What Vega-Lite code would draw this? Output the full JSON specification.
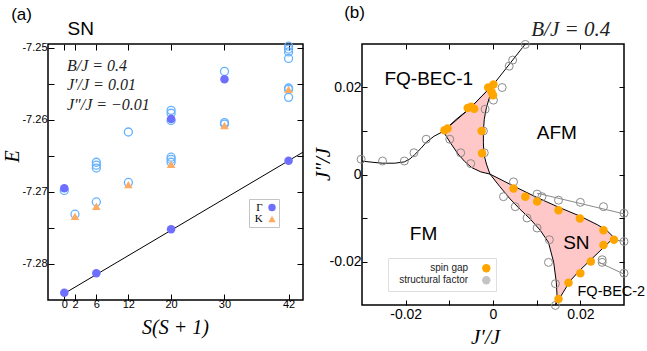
{
  "$schema": "https://vega.github.io/schema/vega-lite/v6.json",
  "padding": {"left": 1, "top": 3, "right": 0, "bottom": 0},
  "spacing": 6,
  "datasets": {
    "gk": [
      {"s": 0, "e": -7.2840, "k": "Γ"}, {"s": 6, "e": -7.2813, "k": "Γ"}, {"s": 20, "e": -7.2752, "k": "Γ"},
      {"s": 42, "e": -7.2657, "k": "Γ"}, {"s": 0, "e": -7.2695, "k": "Γ"}, {"s": 20, "e": -7.2599, "k": "Γ"},
      {"s": 30, "e": -7.2544, "k": "Γ"},
      {"s": 2, "e": -7.2734, "k": "K"}, {"s": 6, "e": -7.2720, "k": "K"}, {"s": 12, "e": -7.2690, "k": "K"},
      {"s": 20, "e": -7.2662, "k": "K"}, {"s": 30, "e": -7.2608, "k": "K"}, {"s": 42, "e": -7.2558, "k": "K"}
    ],
    "other": [
      {"s": 0, "e": -7.2698}, {"s": 2, "e": -7.2731}, {"s": 6, "e": -7.2714}, {"s": 6, "e": -7.2659},
      {"s": 6, "e": -7.2663}, {"s": 6, "e": -7.2667}, {"s": 12, "e": -7.2687}, {"s": 12, "e": -7.2617},
      {"s": 20, "e": -7.2587}, {"s": 20, "e": -7.2591}, {"s": 20, "e": -7.2601}, {"s": 20, "e": -7.2652},
      {"s": 20, "e": -7.2655}, {"s": 20, "e": -7.2659}, {"s": 30, "e": -7.2533}, {"s": 30, "e": -7.2604},
      {"s": 30, "e": -7.2606}, {"s": 42, "e": -7.2498}, {"s": 42, "e": -7.2502}, {"s": 42, "e": -7.2506},
      {"s": 42, "e": -7.2515}, {"s": 42, "e": -7.2556}, {"s": 42, "e": -7.2558}, {"s": 42, "e": -7.2569}
    ],
    "fit": [{"s": 0, "e": -7.2841}, {"s": 44.7, "e": -7.2645}],
    "paramsA": [
      {"t": "B/J =  0.4", "s": 0.5, "e": -7.2525},
      {"t": "J′/J = 0.01", "s": 0.5, "e": -7.2552},
      {"t": "J″/J = −0.01", "s": 0.5, "e": -7.2579}
    ],
    "snA": [{"t": "SN", "s": 3.07, "e": -7.24737}],
    "labA": [{"t": "(a)", "s": -8.0, "e": -7.24541}],
    "sn": [
      {"i": 0, "x": -0.0114, "y": 0.0099}, {"i": 1, "x": -0.0084, "y": 0.0127}, {"i": 2, "x": -0.0053, "y": 0.0152},
      {"i": 3, "x": -0.0026, "y": 0.0180}, {"i": 4, "x": 0.0001, "y": 0.0207}, {"i": 5, "x": -0.0007, "y": 0.0181},
      {"i": 6, "x": -0.0015, "y": 0.0154}, {"i": 7, "x": -0.0020, "y": 0.0127}, {"i": 8, "x": -0.0022, "y": 0.0100},
      {"i": 9, "x": -0.0022, "y": 0.0073}, {"i": 10, "x": -0.0021, "y": 0.0047}, {"i": 11, "x": -0.0015, "y": 0.0024},
      {"i": 12, "x": -0.0007, "y": 0.0001}, {"i": 13, "x": 0.0015, "y": -0.0027}, {"i": 14, "x": 0.0039, "y": -0.0056},
      {"i": 15, "x": 0.0062, "y": -0.0080}, {"i": 16, "x": 0.0085, "y": -0.0102}, {"i": 17, "x": 0.0108, "y": -0.0128},
      {"i": 18, "x": 0.0127, "y": -0.0156}, {"i": 19, "x": 0.0139, "y": -0.0202}, {"i": 20, "x": 0.0145, "y": -0.0248},
      {"i": 21, "x": 0.0147, "y": -0.0285}, {"i": 22, "x": 0.0143, "y": -0.0300}, {"i": 23, "x": 0.0160, "y": -0.0272},
      {"i": 24, "x": 0.0177, "y": -0.0244}, {"i": 25, "x": 0.0200, "y": -0.0219}, {"i": 26, "x": 0.0224, "y": -0.0196},
      {"i": 27, "x": 0.0254, "y": -0.0167}, {"i": 28, "x": 0.0277, "y": -0.0145}, {"i": 29, "x": 0.0262, "y": -0.0130},
      {"i": 30, "x": 0.0240, "y": -0.0116}, {"i": 31, "x": 0.0200, "y": -0.0096}, {"i": 32, "x": 0.0150, "y": -0.0075},
      {"i": 33, "x": 0.0101, "y": -0.0053}, {"i": 34, "x": 0.0050, "y": -0.0028}, {"i": 35, "x": -0.0007, "y": 0.0001},
      {"i": 36, "x": -0.0028, "y": 0.0006}, {"i": 37, "x": -0.0049, "y": 0.0016}, {"i": 38, "x": -0.0065, "y": 0.0030},
      {"i": 39, "x": -0.0080, "y": 0.0047}, {"i": 40, "x": -0.0097, "y": 0.0072}, {"i": 41, "x": -0.0114, "y": 0.0099}
    ],
    "bj": [
      {"i": 0, "x": -0.0302, "y": 0.0031}, {"i": 1, "x": -0.0275, "y": 0.0028}, {"i": 2, "x": -0.0253, "y": 0.0026},
      {"i": 3, "x": -0.0225, "y": 0.0026}, {"i": 4, "x": -0.0203, "y": 0.0029}, {"i": 5, "x": -0.0190, "y": 0.0036},
      {"i": 6, "x": -0.0180, "y": 0.0045}, {"i": 7, "x": -0.0165, "y": 0.0060}, {"i": 8, "x": -0.0153, "y": 0.0074},
      {"i": 9, "x": -0.0135, "y": 0.0088}, {"i": 10, "x": -0.0114, "y": 0.0099}, {"i": 11, "x": -0.0053, "y": 0.0152},
      {"i": 12, "x": 0.0001, "y": 0.0207}, {"i": 13, "x": 0.0074, "y": 0.0300}
    ],
    "gl": [
      {"g": 1, "i": 0, "x": 0.0101, "y": -0.0043}, {"g": 1, "i": 1, "x": 0.0302, "y": -0.0091},
      {"g": 2, "i": 0, "x": 0.0277, "y": -0.0150}, {"g": 2, "i": 1, "x": 0.0302, "y": -0.0154},
      {"g": 3, "i": 0, "x": 0.0243, "y": -0.0202}, {"g": 3, "i": 1, "x": 0.0302, "y": -0.0230}
    ],
    "sf": [
      {"x": -0.0302, "y": 0.0035}, {"x": -0.0253, "y": 0.0031}, {"x": -0.0203, "y": 0.0031}, {"x": -0.0181, "y": 0.0050},
      {"x": -0.0153, "y": 0.0081}, {"x": 0.0021, "y": 0.0200}, {"x": 0.0037, "y": 0.0249}, {"x": 0.0045, "y": 0.0263},
      {"x": 0.0074, "y": 0.0299}, {"x": -0.0099, "y": 0.0081}, {"x": -0.0074, "y": 0.0050}, {"x": -0.0051, "y": 0.0025},
      {"x": -0.0022, "y": 0.0100}, {"x": -0.0020, "y": 0.0050}, {"x": 0.0001, "y": 0.0171}, {"x": -0.0018, "y": 0.0150},
      {"x": 0.0047, "y": -0.0017}, {"x": 0.0024, "y": -0.0051}, {"x": 0.0051, "y": -0.0074}, {"x": 0.0078, "y": -0.0100},
      {"x": 0.0101, "y": -0.0123}, {"x": 0.0129, "y": -0.0150}, {"x": 0.0127, "y": -0.0202}, {"x": 0.0143, "y": -0.0251},
      {"x": 0.0143, "y": -0.0301}, {"x": 0.0101, "y": -0.0045}, {"x": 0.0112, "y": -0.0051}, {"x": 0.0150, "y": -0.0059},
      {"x": 0.0200, "y": -0.0064}, {"x": 0.0253, "y": -0.0074}, {"x": 0.0300, "y": -0.0089}, {"x": 0.0300, "y": -0.0154},
      {"x": 0.0250, "y": -0.0196}, {"x": 0.0250, "y": -0.0202}, {"x": 0.0300, "y": -0.0227}
    ],
    "sg": [
      {"x": -0.0111, "y": 0.0102, "kind": "spin gap"}, {"x": -0.0104, "y": 0.0106, "kind": "spin gap"},
      {"x": -0.0058, "y": 0.0153, "kind": "spin gap"}, {"x": -0.0050, "y": 0.0156, "kind": "spin gap"},
      {"x": -0.0043, "y": 0.0151, "kind": "spin gap"}, {"x": -0.0011, "y": 0.0200, "kind": "spin gap"},
      {"x": 0.0001, "y": 0.0207, "kind": "spin gap"}, {"x": -0.0003, "y": 0.0189, "kind": "spin gap"},
      {"x": 0.0000, "y": 0.0182, "kind": "spin gap"}, {"x": -0.0026, "y": 0.0100, "kind": "spin gap"},
      {"x": -0.0025, "y": 0.0049, "kind": "spin gap"}, {"x": 0.0047, "y": -0.0032, "kind": "spin gap"},
      {"x": 0.0074, "y": -0.0051, "kind": "spin gap"}, {"x": 0.0101, "y": -0.0062, "kind": "spin gap"},
      {"x": 0.0150, "y": -0.0082, "kind": "spin gap"}, {"x": 0.0199, "y": -0.0101, "kind": "spin gap"},
      {"x": 0.0253, "y": -0.0128, "kind": "spin gap"}, {"x": 0.0277, "y": -0.0150, "kind": "spin gap"},
      {"x": 0.0253, "y": -0.0162, "kind": "spin gap"}, {"x": 0.0224, "y": -0.0200, "kind": "spin gap"},
      {"x": 0.0200, "y": -0.0227, "kind": "spin gap"}, {"x": 0.0173, "y": -0.0249, "kind": "spin gap"},
      {"x": 0.0150, "y": -0.0286, "kind": "spin gap"}
    ],
    "regions": [
      {"t": "FQ-BEC-1", "x": -0.0147, "y": 0.0219}, {"t": "AFM", "x": 0.0146, "y": 0.0096},
      {"t": "FM", "x": -0.0159, "y": -0.0137}, {"t": "SN", "x": 0.0191, "y": -0.0157}
    ],
    "fq2": [{"t": "FQ-BEC-2", "x": 0.0271, "y": -0.0269}],
    "labB": [{"t": "(b)", "x": -0.0317, "y": 0.0371}],
    "bjlab": [{"t": "B/J = 0.4", "x": 0.0178, "y": 0.0332}]
  },
  "hconcat": [
    {
      "width": 255,
      "height": 256,
      "resolve": {"axis": {"x": "independent", "y": "independent"}},
      "layer": [
        {
          "data": {"name": "fit"},
          "mark": {"type": "line", "color": "black", "strokeWidth": 1, "clip": true},
          "encoding": {
            "x": {"field": "s", "type": "quantitative", "scale": {"domain": [-3.05, 44.7], "nice": false, "zero": false},
                  "axis": {"orient": "top", "values": [0, 2, 6, 12, 20, 30, 42], "labels": false, "title": null, "tickSize": -6}},
            "y": {"field": "e", "type": "quantitative", "scale": {"domain": [-7.285, -7.2495], "nice": false, "zero": false},
                  "axis": {"orient": "right", "values": [-7.28, -7.275, -7.27, -7.265, -7.26, -7.255, -7.25], "labels": false, "title": null, "tickSize": -6}}
          }
        },
        {
          "data": {"name": "other"},
          "mark": {"type": "point", "filled": false, "stroke": "#66b2ff", "strokeWidth": 1.3, "size": 64, "opacity": 1},
          "encoding": {
            "x": {"field": "s", "type": "quantitative", "axis": null},
            "y": {"field": "e", "type": "quantitative", "axis": null}
          }
        },
        {
          "data": {"name": "gk"},
          "mark": {"type": "point", "filled": true, "size": 72, "opacity": 1},
          "encoding": {
            "x": {"field": "s", "type": "quantitative",
                  "axis": {"orient": "bottom", "values": [0, 2, 6, 12, 20, 30, 42], "tickSize": -6, "labelFontSize": 11, "labelPadding": 4,
                           "title": "S(S + 1)", "titleFont": "Liberation Serif", "titleFontStyle": "italic", "titleFontSize": 20, "titleX": 127, "titleY": 17}},
            "y": {"field": "e", "type": "quantitative",
                  "axis": {"orient": "left", "values": [-7.28, -7.275, -7.27, -7.265, -7.26, -7.255, -7.25], "tickSize": -6, "labelFontSize": 11, "labelPadding": 7,
                           "labelExpr": "abs(datum.value*100 - round(datum.value*100)) < 0.1 ? '-' + format(abs(datum.value), '.2f') : ''",
                           "title": "E", "titleFont": "Liberation Serif", "titleFontStyle": "italic", "titleFontSize": 20, "titleX": -26, "titleY": 112}},
            "color": {"field": "k", "type": "nominal", "scale": {"domain": ["Γ", "K"], "range": ["#6f6fff", "#ffab62"]},
                      "legend": {"title": null, "orient": "none", "legendX": 201, "legendY": 155, "padding": 3, "rowPadding": -0.5,
                                 "labelFont": "Liberation Serif", "labelFontSize": 11, "labelAlign": "right", "labelOffset": -14.8, "symbolOffset": 14.5,
                                 "symbolSize": 55, "fillColor": "white", "strokeColor": "#c4c4c4",
                                 "encode": {"legend": {"update": {"strokeWidth": {"value": 2}}},
                                            "labels": {"update": {"fill": {"signal": "datum.value === 'Γ' ? '#6f6fff' : '#ffab62'"}}}}}},
            "shape": {"field": "k", "type": "nominal", "scale": {"domain": ["Γ", "K"], "range": ["circle", "triangle-up"]}, "legend": null}
          }
        },
        {
          "data": {"name": "paramsA"},
          "mark": {"type": "text", "align": "left", "baseline": "middle", "font": "Liberation Serif", "fontStyle": "italic", "fontSize": 16, "color": "#222"},
          "encoding": {
            "x": {"field": "s", "type": "quantitative", "axis": null},
            "y": {"field": "e", "type": "quantitative", "axis": null},
            "text": {"field": "t"}
          }
        },
        {
          "data": {"name": "snA"},
          "mark": {"type": "text", "align": "center", "baseline": "middle", "font": "Liberation Sans", "fontSize": 19, "color": "black"},
          "encoding": {
            "x": {"field": "s", "type": "quantitative", "axis": null},
            "y": {"field": "e", "type": "quantitative", "axis": null},
            "text": {"field": "t"}
          }
        },
        {
          "data": {"name": "labA"},
          "mark": {"type": "text", "align": "center", "baseline": "middle", "font": "Liberation Sans", "fontSize": 17, "color": "black"},
          "encoding": {
            "x": {"field": "s", "type": "quantitative", "axis": null},
            "y": {"field": "e", "type": "quantitative", "axis": null},
            "text": {"field": "t"}
          }
        }
      ]
    },
    {
      "width": 262,
      "height": 261,
      "resolve": {"axis": {"x": "independent", "y": "independent"}},
      "layer": [
        {
          "data": {"name": "sn"},
          "mark": {"type": "line", "fill": "#ffc8c8", "filled": true, "stroke": "black", "strokeWidth": 1, "clip": true},
          "encoding": {
            "x": {"field": "x", "type": "quantitative", "scale": {"domain": [-0.03, 0.03], "nice": false, "zero": false},
                  "axis": {"orient": "bottom", "values": [-0.02, -0.01, 0, 0.01, 0.02], "tickSize": -5, "labelFontSize": 14, "labelPadding": 7,
                           "labelExpr": "datum.value == 0 ? '0' : (abs(datum.value) > 0.015 ? (datum.value < 0 ? '-' : '') + format(abs(datum.value), '.2f') : '')",
                           "title": "J′/J", "titleFont": "Liberation Serif", "titleFontStyle": "italic", "titleFontSize": 21, "titleX": 123, "titleY": 21}},
            "y": {"field": "y", "type": "quantitative", "scale": {"domain": [-0.03, 0.03], "nice": false, "zero": false},
                  "axis": {"orient": "left", "values": [-0.02, -0.01, 0, 0.01, 0.02], "tickSize": -5, "labelFontSize": 14, "labelPadding": 6,
                           "labelExpr": "datum.value == 0 ? '0' : (abs(datum.value) > 0.015 ? (datum.value < 0 ? '-' : '') + format(abs(datum.value), '.2f') : '')",
                           "title": "J″/J", "titleFont": "Liberation Serif", "titleFontStyle": "italic", "titleFontSize": 21, "titleX": -29, "titleY": 120}},
            "order": {"field": "i", "type": "quantitative"}
          }
        },
        {
          "data": {"name": "bj"},
          "mark": {"type": "line", "color": "black", "strokeWidth": 1, "clip": true},
          "encoding": {
            "x": {"field": "x", "type": "quantitative",
                  "axis": {"orient": "top", "values": [-0.02, -0.01, 0, 0.01, 0.02], "labels": false, "title": null, "tickSize": -5}},
            "y": {"field": "y", "type": "quantitative",
                  "axis": {"orient": "right", "values": [-0.02, -0.01, 0, 0.01, 0.02], "labels": false, "title": null, "tickSize": -5}},
            "order": {"field": "i", "type": "quantitative"}
          }
        },
        {
          "data": {"name": "gl"},
          "mark": {"type": "line", "color": "#8a8a8a", "strokeWidth": 1},
          "encoding": {
            "x": {"field": "x", "type": "quantitative", "axis": null},
            "y": {"field": "y", "type": "quantitative", "axis": null},
            "detail": {"field": "g", "type": "nominal"},
            "order": {"field": "i", "type": "quantitative"}
          }
        },
        {
          "data": {"name": "sf"},
          "mark": {"type": "point", "filled": false, "stroke": "#8a8a8a", "strokeWidth": 1, "size": 64, "opacity": 1},
          "encoding": {
            "x": {"field": "x", "type": "quantitative", "axis": null},
            "y": {"field": "y", "type": "quantitative", "axis": null}
          }
        },
        {
          "data": {"name": "sg"},
          "mark": {"type": "point", "filled": true, "size": 72, "opacity": 1},
          "encoding": {
            "x": {"field": "x", "type": "quantitative", "axis": null},
            "y": {"field": "y", "type": "quantitative", "axis": null},
            "color": {"field": "kind", "type": "nominal", "scale": {"domain": ["spin gap", "structural factor"], "range": ["#ffa500", "#c4c4c4"]},
                      "legend": {"title": null, "orient": "none", "legendX": 26, "legendY": 214, "padding": 5.3, "rowPadding": 2,
                                 "labelFont": "Liberation Sans", "labelFontSize": 10, "labelColor": "#222", "labelAlign": "right", "labelOffset": -23.2, "symbolOffset": 88,
                                 "symbolSize": 70, "symbolType": "circle", "fillColor": "white", "strokeColor": "#dedede",
                                 "encode": {"legend": {"update": {"strokeWidth": {"value": 2}}}}}}
          }
        },
        {
          "data": {"name": "regions"},
          "mark": {"type": "text", "align": "center", "baseline": "middle", "font": "Liberation Sans", "fontSize": 19, "color": "black"},
          "encoding": {
            "x": {"field": "x", "type": "quantitative", "axis": null},
            "y": {"field": "y", "type": "quantitative", "axis": null},
            "text": {"field": "t"}
          }
        },
        {
          "data": {"name": "fq2"},
          "mark": {"type": "text", "align": "center", "baseline": "middle", "font": "Liberation Sans", "fontSize": 14.5, "color": "black"},
          "encoding": {
            "x": {"field": "x", "type": "quantitative", "axis": null},
            "y": {"field": "y", "type": "quantitative", "axis": null},
            "text": {"field": "t"}
          }
        },
        {
          "data": {"name": "labB"},
          "mark": {"type": "text", "align": "center", "baseline": "middle", "font": "Liberation Sans", "fontSize": 17, "color": "black"},
          "encoding": {
            "x": {"field": "x", "type": "quantitative", "axis": null},
            "y": {"field": "y", "type": "quantitative", "axis": null},
            "text": {"field": "t"}
          }
        },
        {
          "data": {"name": "bjlab"},
          "mark": {"type": "text", "align": "center", "baseline": "middle", "font": "Liberation Serif", "fontStyle": "italic", "fontSize": 21, "color": "#222"},
          "encoding": {
            "x": {"field": "x", "type": "quantitative", "axis": null},
            "y": {"field": "y", "type": "quantitative", "axis": null},
            "text": {"field": "t"}
          }
        }
      ]
    }
  ],
  "resolve": {"scale": {"color": "independent", "shape": "independent"}, "legend": {"color": "independent", "shape": "independent"}},
  "config": {
    "view": {"stroke": "black", "strokeWidth": 1.5},
    "axis": {"grid": false, "domain": false, "tickColor": "black", "tickWidth": 1, "labelFont": "Liberation Sans", "labelColor": "black", "titleColor": "black", "titleFontWeight": "normal"},
    "background": "white"
  }
}
